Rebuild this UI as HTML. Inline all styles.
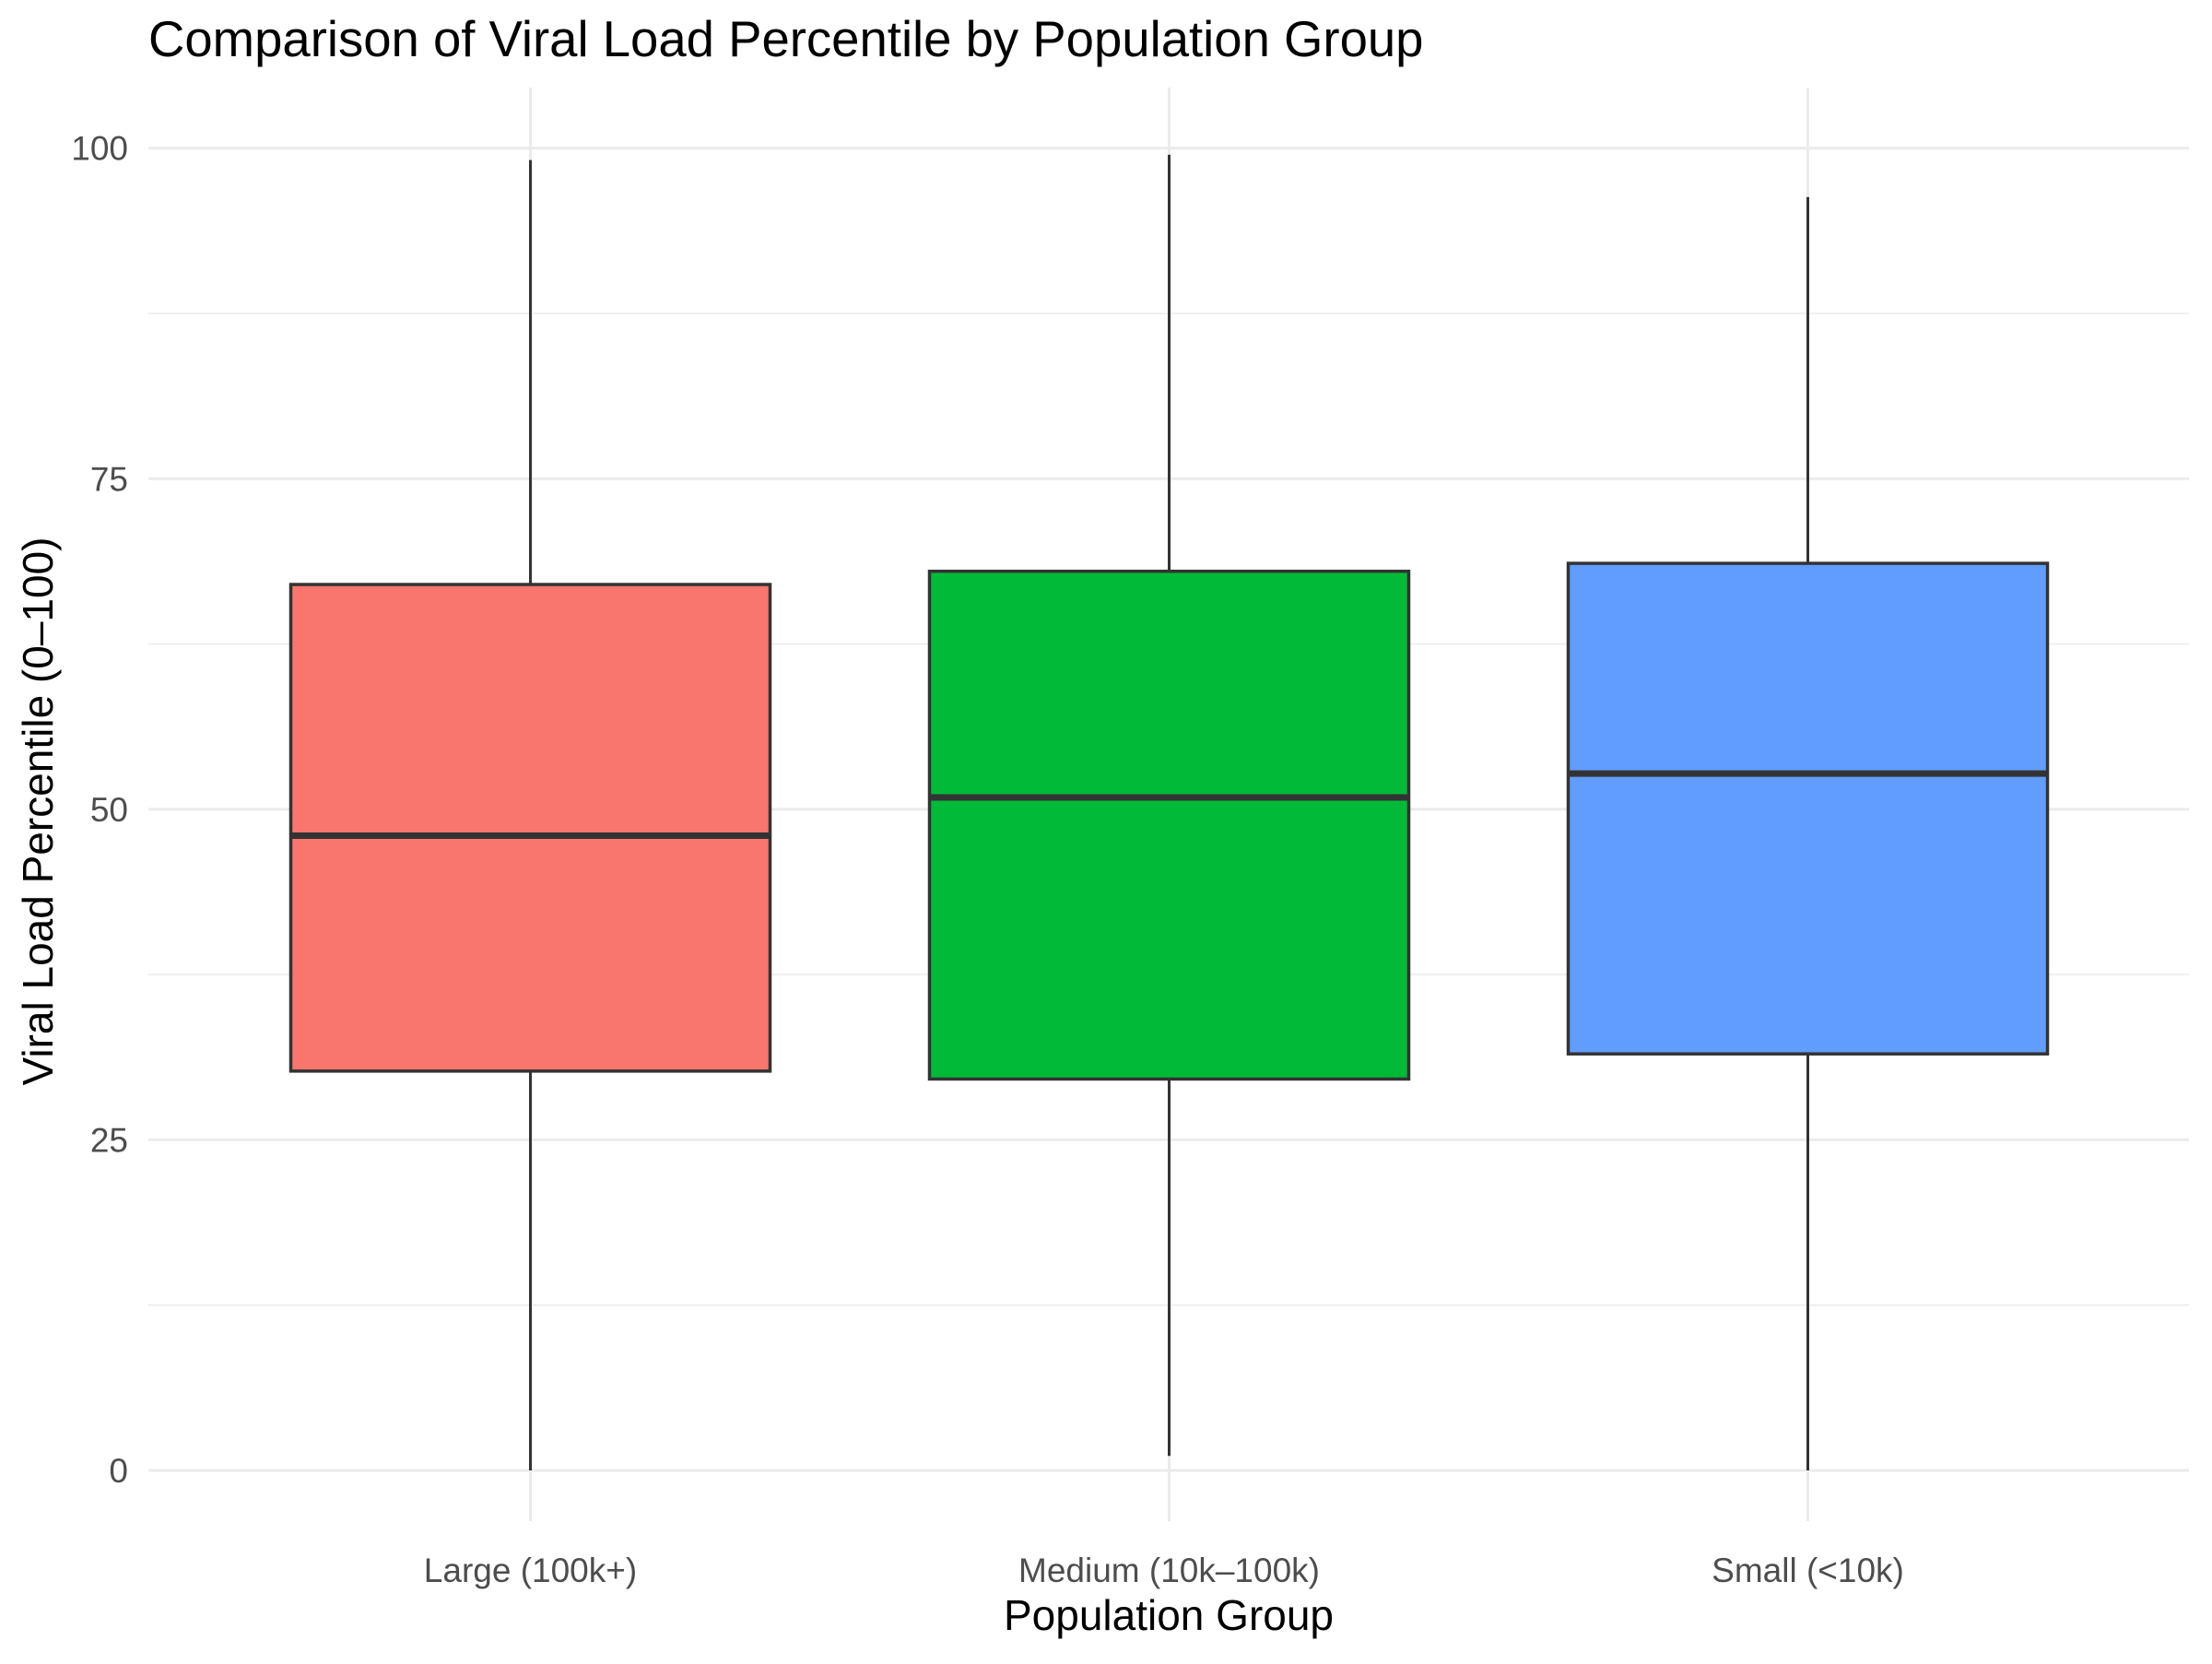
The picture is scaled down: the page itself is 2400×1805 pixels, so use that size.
<!DOCTYPE html>
<html><head><meta charset="utf-8"><style>
html,body{margin:0;padding:0;background:#fff;}
svg text{font-family:"Liberation Sans",Arial,sans-serif;}
</style></head><body>
<svg id="chart" width="2400" height="1800" viewBox="0 0 2400 1800" xmlns="http://www.w3.org/2000/svg">
<rect width="2400" height="1800" fill="#fff"/>
<text x="161" y="61" font-size="54.5" fill="#000">Comparison of Viral Load Percentile by Population Group</text>
<g id="grid"></g>
<g id="boxes"></g>
<g id="axes"></g>
<text x="1268" y="1768" font-size="46" text-anchor="middle" fill="#000">Population Group</text>
<text transform="translate(57,880) rotate(-90)" font-size="46" text-anchor="middle" fill="#000">Viral Load Percentile (0–100)</text>
</svg>
<script>
const categories = ["Large (100k+)", "Medium (10k–100k)", "Small (<10k)"];
const whiskerLow = [0, 1.1, 0];
const q1Values = [30.2, 29.6, 31.5];
const medianValues = [48.0, 50.9, 52.7];
const q3Values = [67.0, 68.0, 68.6];
const whiskerHigh = [99.1, 99.5, 96.3];
const yTicks = [0, 25, 50, 75, 100];
const yMinor = [12.5, 37.5, 62.5, 87.5];
const fillColors = ["#F8766D", "#00BA38", "#619CFF"];

const NS = "http://www.w3.org/2000/svg";
const panelL = 161, panelR = 2375, panelT = 95, panelB = 1650;
const y = v => 1595 - (v / 100) * (1595 - 160.7);
const x = i => 575.5 + i * 693;
const halfW = 260;
function mk(tag, attrs, parent) {
  const e = document.createElementNS(NS, tag);
  for (const k in attrs) e.setAttribute(k, attrs[k]);
  parent.appendChild(e);
  return e;
}
const grid = document.getElementById("grid");
const boxes = document.getElementById("boxes");
const axes = document.getElementById("axes");
yMinor.forEach(v => {
  const l = mk("line", {x1: panelL, x2: panelR, y1: y(v), y2: y(v), stroke: "#ebebeb", "stroke-width": 1.5}, grid);
  
  
});
yTicks.forEach(v => {
  const l = mk("line", {x1: panelL, x2: panelR, y1: y(v), y2: y(v), stroke: "#ebebeb", "stroke-width": 3}, grid);
  
  
  const t = mk("text", {x: 139, y: y(v) + 13, "font-size": 37, "text-anchor": "end", fill: "#4d4d4d"}, axes);
  t.textContent = v;
  
  
});
categories.forEach((c, i) => {
  const gl = mk("line", {x1: x(i), x2: x(i), y1: panelT, y2: panelB, stroke: "#ebebeb", "stroke-width": 3}, grid);
  
  
  const wl = mk("line", {x1: x(i), x2: x(i), y1: y(whiskerHigh[i]), y2: y(whiskerLow[i]), stroke: "#333", "stroke-width": 3}, boxes);
  
  
  const r = mk("rect", {x: x(i) - halfW, y: y(q3Values[i]), width: 2 * halfW, height: y(q1Values[i]) - y(q3Values[i]), fill: fillColors[i], stroke: "#333", "stroke-width": 3.5}, boxes);
  
  
  const m = mk("line", {x1: x(i) - halfW, x2: x(i) + halfW, y1: y(medianValues[i]), y2: y(medianValues[i]), stroke: "#333", "stroke-width": 7}, boxes);
  
  
  const t = mk("text", {x: x(i), y: 1716, "font-size": 37, "text-anchor": "middle", fill: "#4d4d4d"}, axes);
  t.textContent = c;
  
  
});
</script>
</body></html>
